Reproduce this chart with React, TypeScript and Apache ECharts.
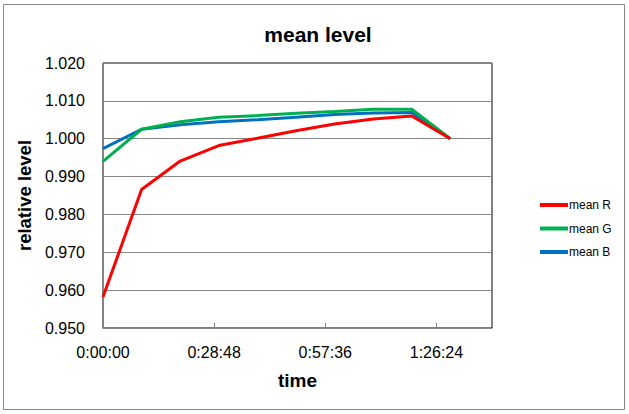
import React, { useEffect, useRef } from "react";
import * as echarts from "echarts";

const timesSec = [0, 600, 1200, 1800, 2400, 3000, 3600, 4200, 4800, 5400];
const meanR = [0.9582, 0.9866, 0.9941, 0.9982, 1.0001, 1.0021, 1.0039, 1.0052, 1.0060, 1.0000];
const meanG = [0.9940, 1.0025, 1.0045, 1.0057, 1.0061, 1.0067, 1.0072, 1.0078, 1.0078, 1.0000];
const meanB = [0.9974, 1.0025, 1.0037, 1.0045, 1.0050, 1.0057, 1.0064, 1.0068, 1.0069, 1.0000];
const seriesNames = ["mean R", "mean G", "mean B"];
const seriesColors = ["#FF0000", "#00B050", "#0070C0"];

function fmtTime(s: number) {
  const h = Math.floor(s / 3600);
  const m = Math.floor((s % 3600) / 60);
  const sec = Math.round(s % 60);
  return `${h}:${String(m).padStart(2, "0")}:${String(sec).padStart(2, "0")}`;
}

export default function App() {
  const ref = useRef<HTMLDivElement>(null);
  useEffect(() => {
    if (!ref.current) return;
    const chart = echarts.init(ref.current, undefined, { renderer: "svg" });
    const font = "'Liberation Sans', Arial, sans-serif";
    const all = [meanR, meanG, meanB];
    chart.setOption({
      animation: false,
      backgroundColor: "#ffffff",
      textStyle: { fontFamily: font },
      title: {
        text: "mean level",
        left: 313,
        top: 19,
        textAlign: "center",
        textStyle: { fontSize: 21, fontWeight: "bold", color: "#000", fontFamily: font },
      },
      grid: {
        left: 103,
        right: 137,
        top: 63,
        bottom: 86,
        show: true,
        borderColor: "#000",
        borderWidth: 1,
        containLabel: false,
      },
      legend: {
        orient: "vertical",
        left: 540,
        top: 199,
        padding: 0,
        icon: "rect",
        itemWidth: 28,
        itemHeight: 4,
        itemGap: 11.5,
        textStyle: { fontSize: 12, color: "#000", fontFamily: font, padding: [0, 0, 0, -4] },
        data: seriesNames,
      },
      xAxis: {
        type: "value",
        min: 0,
        max: 6048,
        interval: 1728,
        name: "time",
        nameLocation: "middle",
        nameGap: 43,
        nameTextStyle: { fontSize: 19, fontWeight: "bold", color: "#000", fontFamily: font },
        axisLine: { show: true, lineStyle: { color: "#868686" } },
        axisTick: { show: true, inside: true, length: 5, lineStyle: { color: "#868686" } },
        splitLine: { show: false },
        axisLabel: {
          fontSize: 16,
          color: "#000",
          margin: 16,
          fontFamily: font,
          formatter: (v: number) => (v > 6000 ? "" : fmtTime(v)),
        },
      },
      yAxis: {
        type: "value",
        min: 0.95,
        max: 1.02,
        interval: 0.01,
        name: "relative level",
        nameLocation: "middle",
        nameGap: 67,
        nameRotate: 90,
        nameTextStyle: { fontSize: 18.5, fontWeight: "bold", color: "#000", fontFamily: font },
        axisLine: { show: true, lineStyle: { color: "#868686" } },
        axisTick: { show: false },
        splitLine: { show: true, lineStyle: { color: "#868686", width: 1 } },
        axisLabel: {
          fontSize: 16,
          color: "#000",
          margin: 18,
          fontFamily: font,
          formatter: (v: number) => v.toFixed(3),
        },
      },
      series: seriesNames.map((name, i) => ({
        name,
        type: "line",
        data: timesSec.map((t, j) => [t, all[i][j]]),
        showSymbol: false,
        symbol: "none",
        lineStyle: { color: seriesColors[i], width: 3 },
        itemStyle: { color: seriesColors[i] },
        z: 10 - i,
      })),
      graphic: [
        {
          type: "rect",
          shape: { x: 3.5, y: 4.5, width: 621, height: 405 },
          style: { fill: "none", stroke: "#868686", lineWidth: 1 },
          silent: true,
        },
      ],
    });
    return () => chart.dispose();
  }, []);
  return <div ref={ref} style={{ width: 629, height: 414, position: "absolute", left: 0, top: 0 }} />;
}
